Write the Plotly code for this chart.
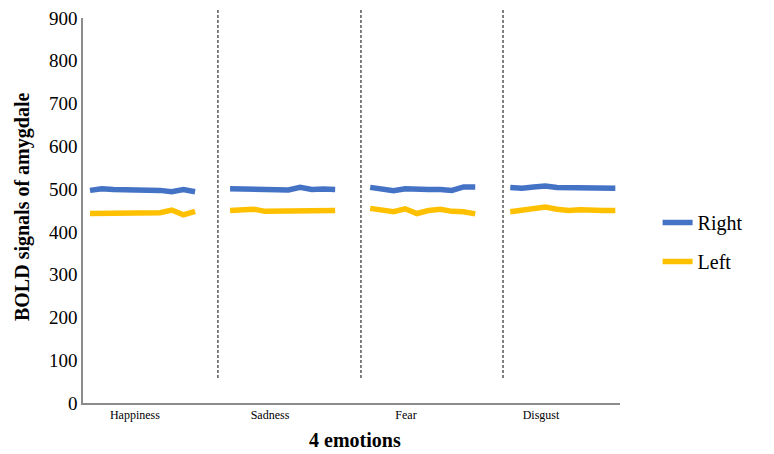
import plotly.graph_objects as go

emotions = ["Happiness", "Sadness", "Fear", "Disgust"]
emotion_tick_pos = [3.85, 15.42, 27.07, 38.63]
separator_pos = [10.96, 23.21, 35.38]

x_happiness = list(range(0, 10))
x_sadness = list(range(12, 22))
x_fear = list(range(24, 34))
x_disgust = list(range(36, 46))

right_happiness = [497, 501, 499, 499, 499, 499, 497, 494, 499, 494]
right_sadness = [501, 501, 501, 499, 500, 498, 504, 499, 500, 499]
right_fear = [504, 501, 496, 501, 499, 499, 499, 497, 505, 505]
right_disgust = [504, 502, 505, 507, 504, 504, 501, 504, 502, 502]

left_happiness = [443, 443, 443, 445, 445, 443, 445, 451, 440, 448]
left_sadness = [450, 453, 453, 448, 448, 451, 448, 448, 449, 450]
left_fear = [455, 450, 447, 454, 443, 450, 453, 448, 447, 442]
left_disgust = [447, 450, 453, 458, 453, 450, 452, 450, 450, 450]

x_range = [-0.6, 45.4]

def with_gaps(groups):
    out = []
    for i, g in enumerate(groups):
        if i:
            out.append(None)
        out.extend(g)
    return out

x_all = with_gaps([x_happiness, x_sadness, x_fear, x_disgust])
right_all = with_gaps([right_happiness, right_sadness, right_fear, right_disgust])
left_all = with_gaps([left_happiness, left_sadness, left_fear, left_disgust])

serif = "Liberation Serif, Times New Roman, serif"

fig = go.Figure()
fig.add_trace(go.Scatter(x=x_all, y=right_all, mode="lines", name="Right",
                         line=dict(color="#4472C4", width=5.5), legendgroup="r",
                         connectgaps=False))
fig.add_trace(go.Scatter(x=x_all, y=left_all, mode="lines", name="Left",
                         line=dict(color="#FFC000", width=5.5), legendgroup="l",
                         connectgaps=False))

for sx in separator_pos:
    px = (sx - x_range[0]) / (x_range[1] - x_range[0])
    fig.add_shape(type="line", xref="paper", yref="paper", x0=px, x1=px,
                  y0=0.065, y1=1.045, line=dict(color="black", width=1, dash="3px,2px"))

fig.add_annotation(text="<b>BOLD signals of amygdale</b>", xref="paper", yref="paper",
                   x=-0.1136, y=0.509, textangle=-90, showarrow=False,
                   xanchor="center", yanchor="middle",
                   font=dict(family=serif, size=20, color="black"))
fig.add_annotation(text="<b>4 emotions</b>", xref="paper", yref="paper",
                   x=0.5065, y=-0.096, showarrow=False,
                   xanchor="center", yanchor="middle",
                   font=dict(family=serif, size=20, color="black"))

# page body has an 8px margin, so the figure is shrunk by 8px and margins shifted
fig.update_layout(
    width=766, height=446,
    margin=dict(l=75, r=154, t=10, b=51, autoexpand=False),
    plot_bgcolor="white", paper_bgcolor="white",
    font=dict(family=serif, color="black"),
    showlegend=True,
    legend=dict(x=1.07, y=0.418, xanchor="left", yanchor="middle",
                font=dict(family=serif, size=20, color="black"),
                tracegroupgap=10, bgcolor="rgba(0,0,0,0)"),
    xaxis=dict(range=x_range, tickmode="array", tickvals=emotion_tick_pos,
               ticktext=emotions, showgrid=False, zeroline=False,
               showline=True, linecolor="#8c8c8c", linewidth=1.5, automargin=False,
               tickfont=dict(family=serif, size=12, color="black"), ticks=""),
    yaxis=dict(range=[0, 900], tickmode="array", tickvals=list(range(0, 901, 100)),
               showgrid=False, zeroline=False, showline=True, linecolor="#8c8c8c",
               linewidth=1.5, ticklabeloverflow="allow", automargin=False,
               tickfont=dict(family=serif, size=19, color="black"), ticks=""),
)

fig.write_html("out.html")
